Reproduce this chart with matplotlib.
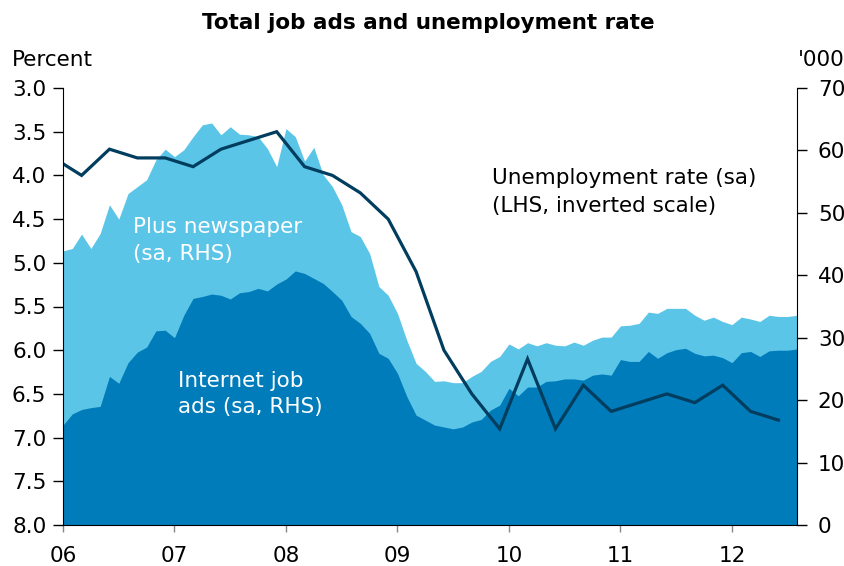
import matplotlib
matplotlib.use("Agg")
import matplotlib.pyplot as plt
import numpy as np
import pandas as pd

# ---------------------------------------------------------------------------
# Data
# ---------------------------------------------------------------------------

# monthly job ads, '000 (sa), Jan 2006 - Aug 2012
months = pd.date_range("2006-01-01", "2012-08-01", freq="MS")
total_ads = [
    43.9, 44.3, 46.6, 44.3, 46.7, 51.3, 49.0, 53.1, 54.2, 55.3, 58.5, 60.2,
    59.0, 60.1, 62.2, 64.1, 64.4, 62.5, 63.8, 62.6, 62.5, 62.2, 60.3, 57.4,
    63.5, 62.2, 58.3, 60.5, 56.1, 54.2, 51.3, 47.0, 46.2, 43.5, 38.2, 36.8,
    33.9, 29.6, 25.9, 24.6, 23.0, 23.1, 22.8, 22.8, 23.8, 24.6, 26.2, 27.0,
    29.0, 28.2, 29.2, 28.7, 29.2, 28.8, 28.7, 29.3, 28.8, 29.6, 30.1, 30.1,
    31.9, 32.0, 32.3, 34.1, 33.9, 34.7, 34.7, 34.7, 33.6, 32.8, 33.3, 32.6,
    32.1, 33.3, 33.0, 32.6, 33.6, 33.4, 33.4, 33.6,
]
internet_ads = [
    16.0, 17.8, 18.5, 18.8, 19.0, 23.8, 22.7, 26.0, 27.7, 28.5, 31.1, 31.2,
    30.0, 33.6, 36.3, 36.6, 37.0, 36.8, 36.2, 37.2, 37.4, 37.9, 37.5, 38.6,
    39.4, 40.7, 40.3, 39.5, 38.7, 37.4, 36.0, 33.4, 32.3, 30.7, 27.5, 26.7,
    24.3, 20.6, 17.6, 16.8, 16.0, 15.7, 15.4, 15.7, 16.5, 16.9, 18.4, 19.2,
    21.9, 20.7, 22.1, 22.1, 23.0, 23.1, 23.4, 23.4, 23.2, 24.0, 24.2, 24.0,
    26.5, 26.2, 26.2, 27.8, 26.7, 27.6, 28.1, 28.3, 27.5, 27.1, 27.2, 26.8,
    26.0, 27.6, 27.8, 27.0, 27.9, 28.0, 28.0, 28.2,
]

# quarterly unemployment rate, % (sa), Dec 2005 - Jun 2012
quarters = pd.date_range("2005-12-01", "2012-06-01", freq="3MS")
unemployment = [
    3.8, 4.0, 3.7, 3.8, 3.8, 3.9, 3.7, 3.6, 3.5, 3.9, 4.0, 4.2, 4.5, 5.1,
    6.0, 6.5, 6.9, 6.1, 6.9, 6.4, 6.7, 6.6, 6.5, 6.6, 6.4, 6.7, 6.8,
]

year_ticks = [2006, 2007, 2008, 2009, 2010, 2011, 2012]
year_labels = ["06", "07", "08", "09", "10", "11", "12"]
pct_ticks = [3.0, 3.5, 4.0, 4.5, 5.0, 5.5, 6.0, 6.5, 7.0, 7.5, 8.0]
ads_ticks = [0, 10, 20, 30, 40, 50, 60, 70]

LIGHT_BLUE = "#5BC5E8"
DARK_BLUE = "#007CBA"
NAVY = "#003D5E"
FS = 15.5


def _decimal_year(dates):
    """Month m of year y is drawn at y + (m - 1) / 12."""
    return np.array([d.year + (d.month - 1) / 12 for d in dates])


x_m = _decimal_year(months)
x_q = _decimal_year(quarters)

fig = plt.figure(figsize=(8.45, 5.66), dpi=100)
ax_l = fig.add_axes([63 / 845, 1 - 525 / 566, 734 / 845, 437 / 566])
ax_r = ax_l.twinx()

# areas on the right-hand scale, line above them on the left (inverted) scale
ax_r.fill_between(x_m, 0, total_ads, color=LIGHT_BLUE, lw=0)
ax_r.fill_between(x_m, 0, internet_ads, color=DARK_BLUE, lw=0)
ax_l.plot(x_q, unemployment, color=NAVY, lw=2.3, solid_joinstyle="miter")
ax_l.set_zorder(ax_r.get_zorder() + 1)
ax_l.patch.set_visible(False)

ax_l.set_xlim(2006, x_m[-1])
ax_l.set_ylim(8, 3)
ax_r.set_ylim(0, 70)

ax_l.set_xticks(year_ticks)
ax_l.set_xticklabels(year_labels)
ax_l.set_yticks(pct_ticks)
ax_l.set_yticklabels([f"{v:.1f}" for v in pct_ticks])
ax_r.set_yticks(ads_ticks)

for a in (ax_l, ax_r):
    a.spines["top"].set_visible(False)
ax_l.spines["right"].set_visible(False)
ax_r.spines["left"].set_visible(False)
ax_r.spines["bottom"].set_visible(False)

ax_l.tick_params(axis="y", length=7, width=1, pad=5, labelsize=FS)
ax_r.tick_params(axis="y", length=7, width=1, pad=8, labelsize=FS)
ax_l.tick_params(axis="x", length=5, width=1, color="#888888", pad=10,
                 labelsize=FS)

# series labels
ax_r.text(2006.63, 46.7, "Plus newspaper", color="white", fontsize=FS,
          va="baseline")
ax_r.text(2006.63, 42.4, "(sa, RHS)", color="white", fontsize=FS,
          va="baseline")
ax_r.text(2007.03, 22.1, "Internet job", color="white", fontsize=FS,
          va="baseline")
ax_r.text(2007.03, 18.0, "ads (sa, RHS)", color="white", fontsize=FS,
          va="baseline")
ax_r.text(2009.85, 54.7, "Unemployment rate (sa)", color="black",
          fontsize=FS, va="baseline")
ax_r.text(2009.85, 50.2, "(LHS, inverted scale)", color="black",
          fontsize=FS, va="baseline")

fig.text(12 / 845, 1 - 66 / 566, "Percent", fontsize=FS, va="baseline")
fig.text(798 / 845, 1 - 66 / 566, "'000", fontsize=FS, va="baseline")
fig.text(428 / 845, 1 - 29 / 566, "Total job ads and unemployment rate",
         fontsize=15.5, weight="bold", ha="center", va="baseline")

fig.savefig("out.png", dpi=100)
